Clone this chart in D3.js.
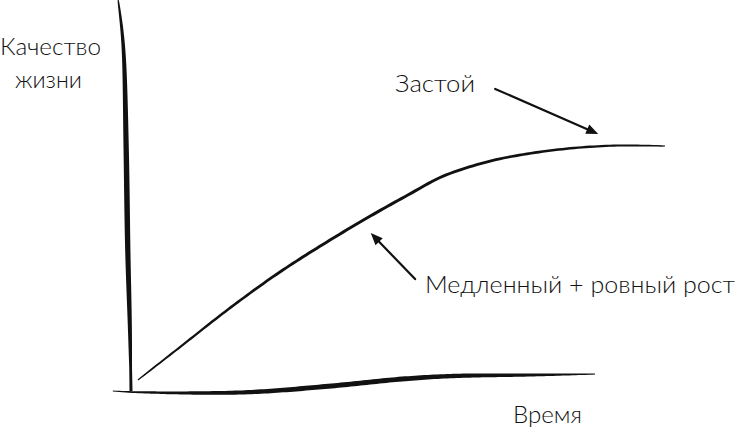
<!DOCTYPE html>
<html>
<head>
<meta charset="utf-8">
<script src="https://cdn.jsdelivr.net/npm/d3@7"></script>
<style>
  html, body { margin: 0; padding: 0; background: #fff; }
  text { font-family: Lato, "Open Sans", sans-serif; font-weight: 300; fill: #111; }
</style>
</head>
<body>
<div id="chart"></div>
<script>
// sketch data, in "time" / "quality of life" units
var curveTime    = [0.13, 0.92, 1.85, 2.79, 3.73, 4.48, 5.22, 5.79, 6.35, 6.91, 7.66, 8.41, 9.16, 10.0];
var curveQuality = [0.49, 1.83, 3.41, 4.88, 6.18, 7.15, 8.05, 8.72, 9.16, 9.48, 9.76, 9.94, 10.02, 10.0];

// hand drawn axes (centre line of the brush stroke)
var yAxisX = [-0.24, -0.17, -0.13, -0.09, -0.06, -0.02, 0.0];
var yAxisY = [15.93, 14.70, 13.50, 9.84, 5.77, 2.52, 0.04];
var xAxisX = [-0.34, 0.0, 1.29, 2.28, 3.73, 5.09, 6.03, 7.47, 8.69];
var xAxisY = [0.04, 0.0, -0.04, 0.0, 0.24, 0.53, 0.65, 0.69, 0.73];

// annotation arrows: [tailX, tailY, tipX, tipY]
var arrows = [
  [6.82, 12.32, 8.75, 10.49],
  [5.32, 4.59, 4.49, 6.46]
];

var yTitle = ['Качество', 'жизни'];
var xTitle = 'Время';
var labels = ['Застой', 'Медленный + ровный рост'];

var svgWidth = 742;
var svgHeight = 431;

var svg = d3.select('#chart')
  .append('svg')
  .attr('width', svgWidth)
  .attr('height', svgHeight);

var x = d3.scaleLinear().domain([0, 10]).range([131, 665]);
var y = d3.scaleLinear().domain([0, 10]).range([392, 146]);

// brush stroke: a filled shape around a centre line, tapered at the ends
function brush(xs, ys, maxW, minW, sharp, endW) {
  var pts = xs.map((d, i) => [x(d), y(ys[i])]);
  var path = svg.append('path').attr('d', d3.line().curve(d3.curveCatmullRom)(pts)).attr('fill', 'none');
  var node = path.node();
  var len = node.getTotalLength();
  var n = 150, left = [], right = [];
  for (var i = 0; i <= n; i++) {
    var t = i / n;
    var p = node.getPointAtLength(t * len);
    var q = node.getPointAtLength(Math.min(len, t * len + 0.5));
    var p0 = node.getPointAtLength(Math.max(0, t * len - 0.5));
    var dx = q.x - p0.x, dy = q.y - p0.y, l = Math.hypot(dx, dy) || 1;
    var w = minW + (maxW - minW) * Math.pow(Math.sin(Math.PI * t), sharp);
    // optional heavier tail end
    if (endW && t > 0.5) w = Math.max(w, minW + (endW - minW) * (t - 0.5) * 2);
    left.push([p.x - dy / l * w / 2, p.y + dx / l * w / 2]);
    right.push([p.x + dy / l * w / 2, p.y - dx / l * w / 2]);
  }
  path.remove();
  var poly = left.concat(right.reverse());
  svg.append('path')
    .attr('d', d3.line().curve(d3.curveLinearClosed)(poly))
    .attr('fill', '#111');
}

brush(yAxisX, yAxisY, 5.5, 1.2, 0.6, 3);
brush(xAxisX, xAxisY, 5, 1, 0.8);
brush(curveTime, curveQuality, 3.0, 1.2, 0.5);

// arrows
arrows.forEach(function(a) {
  var x1 = x(a[0]), y1 = y(a[1]), x2 = x(a[2]), y2 = y(a[3]);
  var ang = Math.atan2(y2 - y1, x2 - x1);
  var hl = 12, hw = 5;
  var bx = x2 - hl * Math.cos(ang), by = y2 - hl * Math.sin(ang);
  svg.append('line')
    .attr('x1', x1).attr('y1', y1)
    .attr('x2', bx).attr('y2', by)
    .attr('stroke', '#111')
    .attr('stroke-width', 2.2)
    .attr('stroke-linecap', 'round');
  svg.append('path')
    .attr('d', d3.line()([
      [x2, y2],
      [bx - hw * Math.sin(ang), by + hw * Math.cos(ang)],
      [bx + hw * Math.sin(ang), by - hw * Math.cos(ang)]
    ]) + 'Z')
    .attr('fill', '#111');
});

// texts
function label(str, px, py, w) {
  svg.append('text')
    .attr('x', px).attr('y', py)
    .attr('font-size', 24)
    .attr('textLength', w)
    .attr('lengthAdjust', 'spacingAndGlyphs')
    .text(str);
}
label(yTitle[0], 0, 55, 101);
label(yTitle[1], 15, 88, 67);
label(labels[0], 395, 92, 80);
label(labels[1], 425, 293, 310);
label(xTitle, 513, 423, 69);
</script>
</body>
</html>
